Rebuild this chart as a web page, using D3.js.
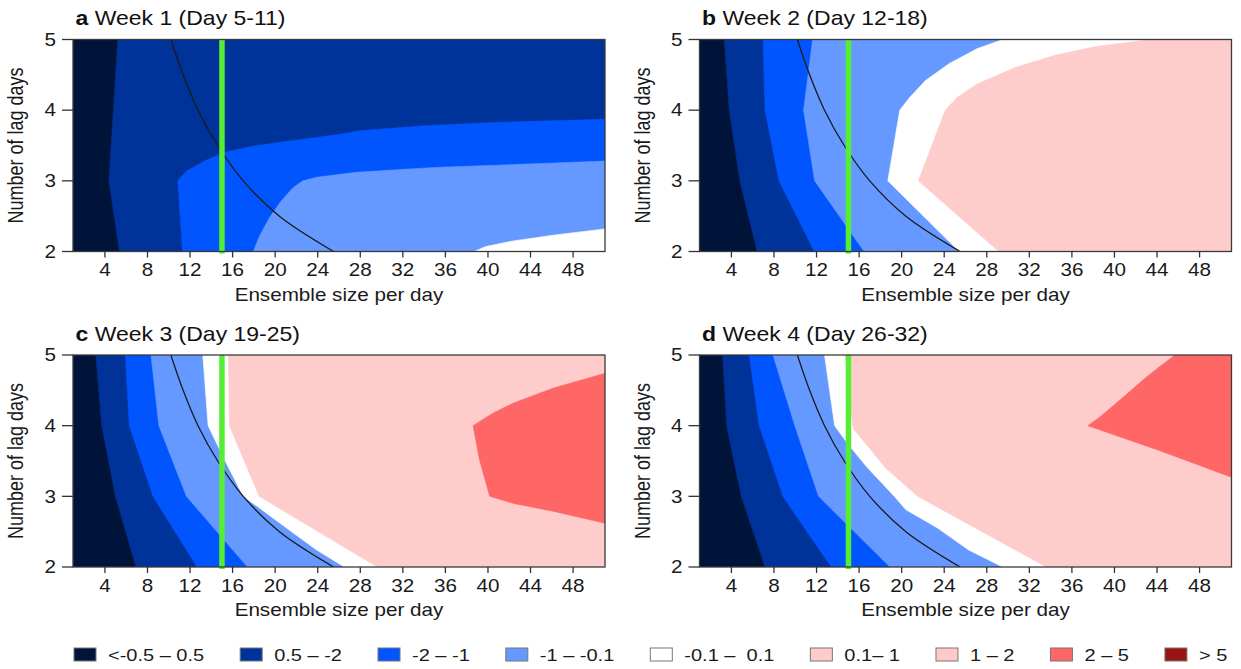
<!DOCTYPE html>
<html>
<head>
<meta charset="utf-8">
<script src="https://cdn.jsdelivr.net/npm/d3@7"></script>
<style>
  html, body { margin: 0; padding: 0; background: #fff; }
  svg { display: block; font-family: "Liberation Sans", Arial, Helvetica, sans-serif; }
</style>
</head>
<body>
<svg id="chart" width="1241" height="669"></svg>
<script>
// ---- data ---------------------------------------------------------------
const ensembleTicks = [4, 8, 12, 16, 20, 24, 28, 32, 36, 40, 44, 48];
const lagTicks = [2, 3, 4, 5];
const ensembleDomain = [1, 51];
const lagDomain = [2, 5];

const panelLetters = ["a", "b", "c", "d"];
const panelTitles = ["Week 1 (Day 5-11)", "Week 2 (Day 12-18)", "Week 3 (Day 19-25)", "Week 4 (Day 26-32)"];

const levelLabels = ["<-0.5 \u2013 0.5", "0.5 \u2013 -2", "-2 \u2013 -1", "-1 \u2013 -0.1",
                     "-0.1 \u2013  0.1", "0.1\u2013 1", "1 \u2013 2", "2 \u2013 5", "> 5"];
const levelColors = ["#00143a", "#003399", "#0055ff", "#6699ff", "#ffffff",
                     "#ffcccc", "#ffc9c9", "#ff6666", "#991515"];

// operational ensemble size per day
const operationalEnsemble = 15;

// line of equal total ensemble size (ensemble per day x lag days)
const totalSizeLags = [2, 2.5, 3, 3.5, 4, 4.5, 5];
const totalSizeEnsemble = [25.5, 20.4, 17, 14.6, 12.75, 11.35, 10.2];

// contour boundaries: level on the high side, vertices as [ensemble size, lag days]
const week1Contours = [
  { level: 1, points: [[5.37, 2], [4.37, 3], [4.8, 4], [5.22, 5]] },
  { level: 2, points: [[11.29, 2], [10.85, 3], [11.66, 3.14], [13.5, 3.29], [15.17, 3.4], [17.5, 3.48],
                       [20.17, 3.54], [26.1, 3.66], [28, 3.71], [34, 3.78], [41.3, 3.83], [51, 3.87]] },
  { level: 3, points: [[17.95, 2], [18.5, 2.21], [19.43, 2.47], [20.54, 2.71], [21.65, 2.9], [22.6, 3],
                       [23.9, 3.05], [27.6, 3.12], [35, 3.19], [42.4, 3.23], [51, 3.28]] },
  { level: 4, points: [[38.7, 2], [39.8, 2.07], [42.4, 2.15], [46.1, 2.23], [51, 2.32]] }
];
const week2Contours = [
  { level: 1, points: [[6.42, 2], [4.8, 3], [3.8, 4], [3.33, 5]] },
  { level: 2, points: [[11.8, 2], [8.47, 3], [7.16, 4], [6.98, 5]] },
  { level: 3, points: [[16.47, 2], [11.82, 3], [10.78, 4], [11.63, 5]] },
  { level: 4, points: [[25.4, 2], [18.7, 3], [19.82, 4], [20.75, 4.18], [22.24, 4.42], [24.48, 4.66],
                       [27.08, 4.87], [29.5, 5]] },
  { level: 5, points: [[29.13, 2], [21.57, 3], [24.1, 4], [25.2, 4.18], [27.08, 4.37], [30.8, 4.61],
                       [34.5, 4.78], [38.25, 4.9], [43.46, 5]] }
];
const week3Contours = [
  { level: 1, points: [[6.92, 2], [5.0, 3], [3.7, 4], [3.15, 5]] },
  { level: 2, points: [[12.66, 2], [8.52, 3], [6.29, 4], [5.92, 5]] },
  { level: 3, points: [[17.4, 2], [11.66, 3], [9.07, 4], [8.33, 5]] },
  { level: 4, points: [[26.5, 2], [23.9, 2.24], [20.9, 2.57], [18.3, 2.86], [17.0, 3], [15.3, 3.5],
                       [13.7, 4], [13.2, 5]] },
  { level: 5, points: [[29.6, 2], [18.5, 3], [15.7, 4], [15.6, 5]] },
  { level: 7, points: [[51, 2.62], [46.1, 2.79], [42.4, 2.9], [40.16, 3], [39.2, 3.52], [38.6, 4],
                       [40.5, 4.18], [42.4, 4.32], [46.1, 4.53], [51, 4.74]] }
];
const week4Contours = [
  { level: 1, points: [[7.16, 2], [4.93, 3], [3.55, 4], [3.18, 5]] },
  { level: 2, points: [[13.38, 2], [8.84, 3], [6.61, 4], [5.68, 5]] },
  { level: 3, points: [[18.9, 2], [12.19, 3], [9.96, 4], [7.91, 5]] },
  { level: 4, points: [[29.5, 2], [26.3, 2.24], [23.4, 2.55], [20.4, 2.81], [19.3, 3], [16.7, 3.42],
                       [14.9, 3.75], [13.7, 4], [12.75, 5]] },
  { level: 5, points: [[33.6, 2], [21.5, 3], [18.5, 3.4], [15.5, 3.95], [15.4, 4], [14.7, 5]] },
  { level: 7, points: [[51, 3.27], [44.2, 3.65], [37.5, 4], [38.6, 4.12], [39.8, 4.27], [41.2, 4.45],
                       [42.7, 4.65], [44.2, 4.83], [45.7, 5]] }
];
const panelContours = [week1Contours, week2Contours, week3Contours, week4Contours];

// ---- layout -------------------------------------------------------------
const colLeft = [73, 699.5];
const rowTop = [39.5, 355];
const plotW = 532, plotH = 212;
const textStretch = 1.18;

const svg = d3.select("#chart");

// perimeter position of a border point, running clockwise from the top-left corner
function perimeter([e, l]) {
  const [e0, e1] = ensembleDomain, [l0, l1] = lagDomain, eps = 1e-6;
  if (Math.abs(l - l1) < eps) return (e - e0) / (e1 - e0);
  if (Math.abs(e - e1) < eps) return 1 + (l1 - l) / (l1 - l0);
  if (Math.abs(l - l0) < eps) return 2 + (e1 - e) / (e1 - e0);
  return 3 + (l - l0) / (l1 - l0);
}
// close an open boundary along the frame, enclosing its high side
function closeRing(points) {
  const [e0, e1] = ensembleDomain, [l0, l1] = lagDomain;
  const corners = [[e0, l1], [e1, l1], [e1, l0], [e0, l0]];
  const tEnd = perimeter(points[points.length - 1]);
  let tStart = perimeter(points[0]);
  if (tStart < tEnd) tStart += 4;
  const ring = points.slice();
  for (let c = Math.floor(tEnd) + 1; c < tStart; c++) ring.push(corners[c % 4]);
  return ring;
}

panelContours.forEach((contours, i) => {
  const left = colLeft[i % 2], top = rowTop[Math.floor(i / 2)];
  const x = d3.scaleLinear().domain(ensembleDomain).range([left, left + plotW]);
  const y = d3.scaleLinear().domain(lagDomain).range([top + plotH, top]);
  const g = svg.append("g");

  const clipId = "clip-" + i;
  g.append("clipPath").attr("id", clipId)
    .append("rect").attr("x", left).attr("y", top).attr("width", plotW).attr("height", plotH);

  const field = g.append("g").attr("clip-path", `url(#${clipId})`);
  field.append("rect")
    .attr("x", left).attr("y", top).attr("width", plotW).attr("height", plotH)
    .attr("fill", levelColors[0]);

  const line = d3.line().x(d => x(d[0])).y(d => y(d[1]));
  field.selectAll("path.band")
    .data(contours)
    .join("path")
    .attr("class", "band")
    .attr("d", d => line(closeRing(d.points)) + "Z")
    .attr("fill", d => levelColors[d.level])
    .attr("stroke", d => levelColors[d.level])
    .attr("stroke-width", 0.6);

  // operational ensemble size
  g.append("line")
    .attr("x1", x(operationalEnsemble)).attr("x2", x(operationalEnsemble))
    .attr("y1", y(5)).attr("y2", y(1.97))
    .attr("stroke", "#55ee33").attr("stroke-width", 5.5);

  // equal total ensemble size
  const curvePts = totalSizeLags.map((l, k) => [totalSizeEnsemble[k], l]);
  field.append("path")
    .attr("d", d3.line().x(d => x(d[0])).y(d => y(d[1])).curve(d3.curveCatmullRom)(curvePts))
    .attr("fill", "none").attr("stroke", "#1a1a1a").attr("stroke-width", 1.3);

  // frame
  g.append("rect")
    .attr("x", left).attr("y", top).attr("width", plotW).attr("height", plotH)
    .attr("fill", "none").attr("stroke", "#3a3a3a").attr("stroke-width", 1.3);

  // x axis
  const xAxis = g.append("g");
  xAxis.selectAll("line").data(ensembleTicks).join("line")
    .attr("x1", d => x(d)).attr("x2", d => x(d))
    .attr("y1", top + plotH).attr("y2", top + plotH + 6)
    .attr("stroke", "#333").attr("stroke-width", 1.3);
  xAxis.selectAll("text").data(ensembleTicks).join("text")
    .attr("transform", d => `translate(${x(d)},${top + plotH + 24.5}) scale(${textStretch},1)`)
    .attr("text-anchor", "middle").attr("font-size", 17.5).attr("fill", "#1a1a1a")
    .text(d => d);

  // y axis
  const yAxis = g.append("g");
  yAxis.selectAll("line").data(lagTicks).join("line")
    .attr("x1", left - 11).attr("x2", left)
    .attr("y1", d => y(d)).attr("y2", d => y(d))
    .attr("stroke", "#333").attr("stroke-width", 1.3);
  yAxis.selectAll("text").data(lagTicks).join("text")
    .attr("transform", d => `translate(${left - 17},${y(d)}) scale(${textStretch},1)`)
    .attr("text-anchor", "end").attr("dy", "0.36em").attr("font-size", 17.5).attr("fill", "#1a1a1a")
    .text(d => d);

  // axis titles
  g.append("text")
    .attr("transform", `translate(${left + plotW / 2},${top + plotH + 49}) scale(${textStretch},1)`)
    .attr("text-anchor", "middle").attr("font-size", 17.5).attr("fill", "#1a1a1a")
    .text("Ensemble size per day");
  g.append("text")
    .attr("transform", `translate(${left - 50},${top + plotH / 2}) scale(${textStretch},1) rotate(-90)`)
    .attr("text-anchor", "middle").attr("font-size", 18).attr("fill", "#1a1a1a")
    .text("Number of lag days");

  // panel title
  const title = g.append("text")
    .attr("transform", `translate(${left + 2.5},${top - 14.5}) scale(1.15,1)`)
    .attr("font-size", 20).attr("fill", "#111");
  title.append("tspan").attr("font-weight", "bold").text(panelLetters[i]);
  title.append("tspan").text(" " + panelTitles[i]);
});

// ---- legend -------------------------------------------------------------
const legendStretch = 1.25;
const legend = svg.append("g");
let lx = 74;
levelLabels.forEach((label, k) => {
  legend.append("rect")
    .attr("x", lx).attr("y", 648).attr("width", 22).attr("height", 13)
    .attr("fill", levelColors[k]).attr("stroke", "#777").attr("stroke-width", 1);
  const t = legend.append("text")
    .attr("transform", `translate(${lx + 34},661) scale(${legendStretch},1)`)
    .attr("font-size", 16).attr("fill", "#1a1a1a")
    .attr("xml:space", "preserve").style("white-space", "pre")
    .text(label);
  lx += 34 + t.node().getComputedTextLength() * legendStretch + 36;
});
</script>
</body>
</html>
